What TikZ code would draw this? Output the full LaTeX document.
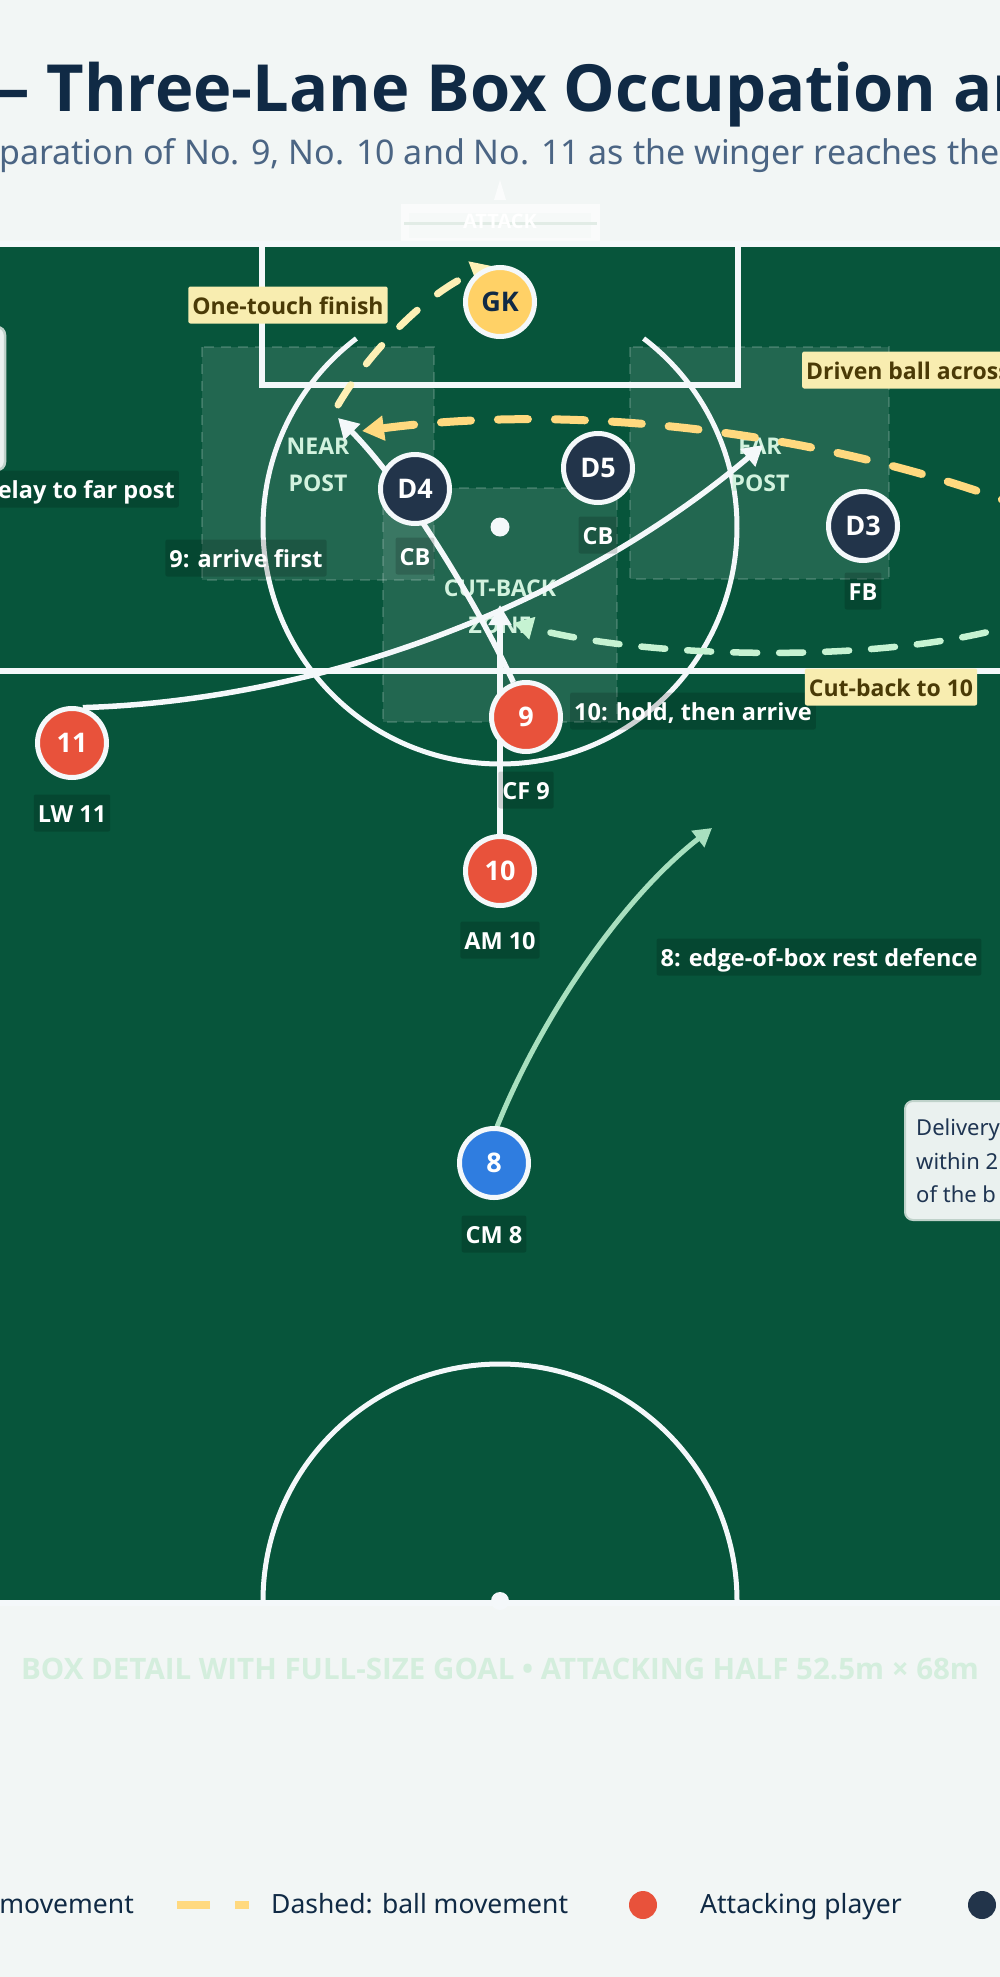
\documentclass[tikz,border=0pt]{standalone}
\usepackage{fontspec}
\setmainfont{Noto Sans}
\newfontfamily\bfam{Open Sans}
\usetikzlibrary{arrows.meta}
\definecolor{bgc}{HTML}{F2F6F5}
\definecolor{pitchc}{HTML}{07553B}
\definecolor{lineW}{HTML}{F4F8FA}
\definecolor{navy}{HTML}{102A45}
\definecolor{slate}{HTML}{4B6584}
\definecolor{attc}{HTML}{E8523B}
\definecolor{defc}{HTML}{22344A}
\definecolor{gkc}{HTML}{FFD166}
\definecolor{cmc}{HTML}{2F7DE0}
\definecolor{runG}{HTML}{A8E0BF}
\definecolor{ballY}{HTML}{FFD97F}
\definecolor{shotY}{HTML}{FDF0B5}
\definecolor{cutG}{HTML}{C6F3D2}
\definecolor{callF}{HTML}{F8EDB0}
\definecolor{callT}{HTML}{4A3A06}
\definecolor{zoneL}{HTML}{D2F2DE}
\definecolor{capC}{HTML}{D4EEDD}
\definecolor{noteF}{HTML}{EAF1EF}
\definecolor{noteD}{HTML}{BFD2CA}
\definecolor{noteT}{HTML}{1F3552}
\definecolor{netL}{HTML}{E2ECE6}
\newcommand\fsz[2]{\fontsize{#1pt}{#2pt}\selectfont}
\newcommand\bsz[2]{\bfam\bfseries\fontsize{#1pt}{#2pt}\selectfont}
\pgfdeclarelayer{back}
\pgfdeclarelayer{mid}
\pgfdeclarelayer{front}
\pgfsetlayers{back,mid,main,front}
\tikzset{
  pline/.style={draw=lineW, line width=6pt},
  parc/.style={draw=lineW, line width=5pt},
  zone/.style={fill=white, fill opacity=0.11, draw=white, draw opacity=0.16, line width=2pt, dash pattern=on 10pt off 7pt},
  zlabel/.style={text=zoneL, font=\bsz{23}{37}, align=center, inner sep=0pt},
  run/.style={draw=lineW, line width=5.5pt, -{Triangle[length=20pt,width=22pt]}},
  runeight/.style={draw=runG, line width=5pt, line cap=round, -{Triangle[length=18pt,width=20pt]}},
  balld/.style={draw=ballY, line width=8pt, line cap=round, dash pattern=on 30pt off 27pt, -{Triangle[length=22pt,width=24pt]}},
  shotd/.style={draw=shotY, line width=7pt, line cap=round, dash pattern=on 24pt off 26pt, -{Triangle[length=20pt,width=24pt]}},
  cutd/.style={draw=cutG, line width=6.5pt, line cap=round, dash pattern=on 24pt off 22pt, -{Triangle[length=20pt,width=22pt]}},
  player/.style={circle, draw=lineW, line width=5pt, minimum size=69pt, inner sep=0pt, text=white, font=\bsz{27}{30}},
  ptag/.style={fill=black, fill opacity=0.16, text opacity=1, text=white, font=\bsz{23.5}{28}, inner xsep=4pt, inner ysep=6pt, text height=22pt, text depth=3pt, rounded corners=2pt},
  callout/.style={fill=callF, text=callT, font=\bsz{23}{28}, inner xsep=4pt, inner ysep=6pt, text height=22pt, text depth=3pt, rounded corners=2pt},
}
\begin{document}
\begin{tikzpicture}[x=1pt,y=-1pt]
\useasboundingbox (0,0) rectangle (1000,1977);
\begin{pgfonlayer}{back}
\fill[bgc] (0,0) rectangle (1000,1977);

% title and subtitle
\node[anchor=base west, inner sep=0pt, text=navy, font=\bsz{65}{78}] (title) at (-3,112) {– Three-Lane Box Occupation and};
\node[anchor=base west, inner sep=0pt, text=slate, font=\fsz{34}{40}] (subtitle) at (-1,165) {paration of No. 9, No. 10 and No. 11 as the winger reaches the};

% goal and attack marker
\fill[white!60!bgc] (401,204) rectangle (600,247);
\fill[bgc!70!white] (409,213) rectangle (591,238);
\draw[draw=netL, line width=3pt] (404,224) -- (597,224);
\node[text=white, font=\bsz{20}{24}, inner sep=0pt] (attack) at (500,221) {ATTACK};
\fill[white!70!bgc] (500,180) -- (506,200) -- (494,200) -- cycle;

% pitch
\fill[pitchc] (-10,244) rectangle (1010,1603);

% zones
\path[zone] (202,347) rectangle (434,580);
\path[zone] (630,347) rectangle (889,579);
\path[zone] (383,488) rectangle (617,722);

% markings
\draw[pline] (-10,244) -- (1010,244);
\draw[pline] (262,247) -- (262,385) -- (738,385) -- (738,247);
\draw[pline] (-10,671) -- (1010,671);
\draw[parc] (500,527) ++(232.7:237) arc[start angle=232.7, end angle=-52.7, radius=237];
\fill[lineW] (500,527) circle (9.5);
\draw[parc] (263,1601) arc[start angle=180, end angle=360, radius=237];
\draw[pline] (-10,1603) -- (1010,1603);
\fill[lineW] (500,1601) circle (9);

% zone labels
\node[zlabel] (znear) at (318,465) {NEAR\\POST};
\node[zlabel] (zfar) at (760,465) {FAR\\POST};
\node[zlabel] (zcut) at (500,607) {CUT-BACK\\ZONE};

% left note box edge
\draw[fill=noteF, draw=noteD, line width=2.5pt, rounded corners=8pt] (-300,327) rectangle (5,470);
\end{pgfonlayer}

% players
\node[player, fill=gkc, text=navy] (gk) at (500,302) {GK};
\node[player, fill=defc] (d4) at (415,489) {D4};
\node[player, fill=defc] (d5) at (598,468) {D5};
\node[player, fill=defc] (d3) at (863,526) {D3};
\node[player, fill=attc] (p9) at (526,717) {9};
\node[player, fill=attc] (p11) at (72,743) {11};
\node[player, fill=attc] (p10) at (500,871) {10};
\node[player, fill=cmc] (p8) at (494,1163) {8};

% targets
\coordinate (nearpost) at (338,418);
\coordinate (farpost) at (763,445);
\coordinate (cbz) at (500,605);
\coordinate (edge) at (712,828);
\coordinate (ballstart) at (1030,510);
\coordinate (ballend) at (362,431);
\coordinate (shotstart) at (338,405);
\coordinate (cutstart) at (1030,620);
\coordinate (cutend) at (513,623);

% movements beneath players
\begin{pgfonlayer}{mid}
\draw[run] (p11.73) .. controls (330,700) and (580,600) .. (farpost);
\draw[run] (p9.110) .. controls (470,590) and (400,480) .. (nearpost);
\draw[run] (p10) -- (cbz);
\draw[runeight] (p8.85) .. controls (540,1020) and (620,900) .. (edge);
\draw[balld] (ballstart) .. controls (850,440) and (600,400) .. (ballend);
\draw[shotd] (shotstart) .. controls (370,350) and (430,290) .. (gk.103);
\draw[cutd] (cutstart) .. controls (900,665) and (650,660) .. (cutend);
\end{pgfonlayer}

\begin{pgfonlayer}{front}
% player tags
\node[ptag] (t4) at (415,556) {CB};
\node[ptag] (t5) at (598,535) {CB};
\node[ptag] (t3) at (863,591) {FB};
\node[ptag] (t9) at (526,790) {CF 9};
\node[ptag] (t11) at (72,813) {LW 11};
\node[ptag] (t10) at (500,940) {AM 10};
\node[ptag] (t8) at (494,1234) {CM 8};

% annotations
\node[ptag, anchor=east] (a11) at (179,489) {elay to far post};
\node[ptag] (a9) at (246,558) {9: arrive first};
\node[ptag] (a10) at (693,711) {10: hold, then arrive};
\node[ptag] (a8) at (819,957) {8: edge-of-box rest defence};

% callouts
\node[callout] (c1) at (288,305) {One-touch finish};
\node[callout, anchor=west] (c2) at (802,370) {Driven ball across};
\node[callout] (c3) at (891,687) {Cut-back to 10};

% note box
\draw[fill=noteF, draw=noteD, line width=2pt, rounded corners=8pt] (905,1101) rectangle (1150,1220);
\node[anchor=base west, inner sep=0pt, text=noteT, font=\fsz{22}{33}] (n1) at (916,1135) {Delivery};
\node[anchor=base west, inner sep=0pt, text=noteT, font=\fsz{22}{33}] (n2) at (916,1169) {within 2};
\node[anchor=base west, inner sep=0pt, text=noteT, font=\fsz{22}{33}] (n3) at (916,1202) {of the b};

% caption
\node[anchor=base, inner sep=0pt, text=capC, font=\bsz{29.5}{35}] (caption) at (500,1679) {BOX DETAIL WITH FULL-SIZE GOAL • ATTACKING HALF 52.5m × 68m};

% legend
\node[anchor=base east, inner sep=0pt, text=navy, font=\fsz{26.5}{32}] (l1) at (134,1913) {movement};
\draw[draw=ballY, line width=8pt, dash pattern=on 33pt off 25pt] (177,1905) -- (249,1905);
\node[anchor=base west, inner sep=0pt, text=navy, font=\fsz{26.5}{32}] (l2) at (271,1913) {Dashed: ball movement};
\fill[attc] (643,1905) circle (14);
\node[anchor=base west, inner sep=0pt, text=navy, font=\fsz{26.5}{32}] (l3) at (700,1913) {Attacking player};
\fill[defc] (982,1905) circle (14);
\end{pgfonlayer}
\end{tikzpicture}
\end{document}
